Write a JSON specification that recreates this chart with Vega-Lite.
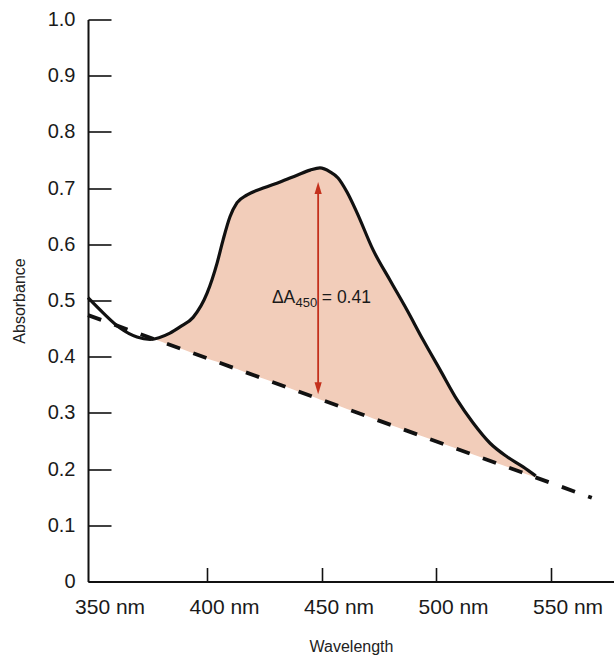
{
  "$schema": "https://vega.github.io/schema/vega-lite/v6.json",
  "autosize": "none",
  "width": 526,
  "height": 562,
  "padding": {"left": 88, "top": 19.5, "right": 0, "bottom": 77.5},
  "background": "white",
  "config": {
    "view": {"stroke": null},
    "font": "Liberation Sans",
    "axis": {
      "grid": false,
      "domainColor": "#111",
      "domainWidth": 2,
      "tickColor": "#111",
      "tickWidth": 1.6,
      "labelColor": "#1a1a1a",
      "titleColor": "#222",
      "labelFont": "Liberation Sans",
      "titleFont": "Liberation Sans",
      "titleFontWeight": "normal"
    }
  },
  "datasets": {
    "curve": [
      {"wl": 348, "a": 0.505},
      {"wl": 354.6, "a": 0.478},
      {"wl": 362, "a": 0.451},
      {"wl": 369.4, "a": 0.435},
      {"wl": 375.1, "a": 0.431},
      {"wl": 383.8, "a": 0.442},
      {"wl": 388.2, "a": 0.453},
      {"wl": 393.9, "a": 0.470},
      {"wl": 400.0, "a": 0.513},
      {"wl": 404.4, "a": 0.567},
      {"wl": 407.0, "a": 0.608},
      {"wl": 410.0, "a": 0.649},
      {"wl": 413.1, "a": 0.674},
      {"wl": 417.5, "a": 0.688},
      {"wl": 424.5, "a": 0.700},
      {"wl": 431.9, "a": 0.711},
      {"wl": 439.3, "a": 0.723},
      {"wl": 445.0, "a": 0.732},
      {"wl": 449.3, "a": 0.736},
      {"wl": 453.7, "a": 0.729},
      {"wl": 457.2, "a": 0.718},
      {"wl": 461.1, "a": 0.693},
      {"wl": 465.5, "a": 0.656},
      {"wl": 472.5, "a": 0.590},
      {"wl": 479.9, "a": 0.536},
      {"wl": 487.3, "a": 0.483},
      {"wl": 494.3, "a": 0.430},
      {"wl": 501.7, "a": 0.377},
      {"wl": 509.2, "a": 0.323},
      {"wl": 516.2, "a": 0.282},
      {"wl": 523.6, "a": 0.246},
      {"wl": 531.0, "a": 0.222},
      {"wl": 538.0, "a": 0.204},
      {"wl": 543.5, "a": 0.188}
    ],
    "fill": [
      {"wl": 377, "a": 0.432, "base": 0.431},
      {"wl": 383.8, "a": 0.442, "base": 0.421},
      {"wl": 388.2, "a": 0.453, "base": 0.415},
      {"wl": 393.9, "a": 0.470, "base": 0.406},
      {"wl": 400.0, "a": 0.513, "base": 0.397},
      {"wl": 404.4, "a": 0.567, "base": 0.391},
      {"wl": 407.0, "a": 0.608, "base": 0.387},
      {"wl": 410.0, "a": 0.649, "base": 0.382},
      {"wl": 413.1, "a": 0.674, "base": 0.378},
      {"wl": 417.5, "a": 0.688, "base": 0.371},
      {"wl": 424.5, "a": 0.700, "base": 0.361},
      {"wl": 431.9, "a": 0.711, "base": 0.350},
      {"wl": 439.3, "a": 0.723, "base": 0.339},
      {"wl": 445.0, "a": 0.732, "base": 0.331},
      {"wl": 449.3, "a": 0.736, "base": 0.324},
      {"wl": 453.7, "a": 0.729, "base": 0.318},
      {"wl": 457.2, "a": 0.718, "base": 0.313},
      {"wl": 461.1, "a": 0.693, "base": 0.307},
      {"wl": 465.5, "a": 0.656, "base": 0.301},
      {"wl": 472.5, "a": 0.590, "base": 0.290},
      {"wl": 479.9, "a": 0.536, "base": 0.279},
      {"wl": 487.3, "a": 0.483, "base": 0.268},
      {"wl": 494.3, "a": 0.430, "base": 0.258},
      {"wl": 501.7, "a": 0.377, "base": 0.247},
      {"wl": 509.2, "a": 0.323, "base": 0.236},
      {"wl": 516.2, "a": 0.282, "base": 0.226},
      {"wl": 523.6, "a": 0.246, "base": 0.215},
      {"wl": 531.0, "a": 0.222, "base": 0.204},
      {"wl": 538.0, "a": 0.204, "base": 0.193},
      {"wl": 543.5, "a": 0.188, "base": 0.185}
    ],
    "baseline": [
      {"wl": 348, "a": 0.474},
      {"wl": 568, "a": 0.149}
    ],
    "arrow": [
      {"wl": 448.5, "a": 0.344, "a2": 0.700}
    ],
    "labels": [
      {"wl": 428.3, "a": 0.4947, "t": "ΔA", "kind": "main"},
      {"wl": 438.6, "a": 0.4884, "t": "450", "kind": "sub"},
      {"wl": 450.1, "a": 0.4947, "t": "= 0.41", "kind": "main"}
    ]
  },
  "encoding": {
    "x": {
      "field": "wl",
      "type": "quantitative",
      "scale": {"domain": [348, 577.7], "nice": false, "zero": false},
      "axis": {
        "title": "Wavelength",
        "titleFontSize": 16,
        "titlePadding": 21,
        "values": [350, 400, 450, 500, 550],
        "labelExpr": "datum.value + ' nm'",
        "labelFontSize": 21,
        "labelFlush": false,
        "labelOffset": 17,
        "labelPadding": 29,
        "tickSize": -14,
        "tickOpacity": {"condition": {"test": "datum.value == 350", "value": 0}, "value": 1}
      }
    },
    "y": {
      "field": "a",
      "type": "quantitative",
      "scale": {"domain": [0, 1], "nice": false},
      "axis": {
        "title": "Absorbance",
        "titleFontSize": 16,
        "titlePadding": 20,
        "values": [0, 0.1, 0.2, 0.3, 0.4, 0.5, 0.6, 0.7, 0.8, 0.9, 1.0],
        "labelExpr": "datum.value == 0 ? '0' : format(datum.value, '.1f')",
        "labelFontSize": 20,
        "labelPadding": 36,
        "tickSize": -23
      }
    }
  },
  "layer": [
    {
      "data": {"name": "fill"},
      "mark": {"type": "area", "color": "#f2cdba", "interpolate": "monotone"},
      "encoding": {"y2": {"field": "base"}}
    },
    {
      "data": {"name": "baseline"},
      "mark": {"type": "line", "color": "#111", "strokeWidth": 3.8, "strokeDash": [14, 14]},
      "encoding": {}
    },
    {
      "data": {"name": "curve"},
      "mark": {"type": "line", "color": "#111", "strokeWidth": 3.2, "interpolate": "monotone"},
      "encoding": {}
    },
    {
      "data": {"name": "arrow"},
      "mark": {"type": "rule", "color": "#c4301c", "strokeWidth": 1.8},
      "encoding": {"y2": {"field": "a2"}}
    },
    {
      "data": {"name": "arrow"},
      "mark": {"type": "point", "filled": true, "opacity": 1, "color": "#c4301c", "shape": "M0,1L0.6,-1L-0.6,-1Z", "size": 144},
      "encoding": {}
    },
    {
      "data": {"name": "arrow"},
      "mark": {"type": "point", "filled": true, "opacity": 1, "color": "#c4301c", "shape": "M0,-1L0.6,1L-0.6,1Z", "size": 144},
      "encoding": {"y": {"field": "a2", "type": "quantitative"}}
    },
    {
      "data": {"name": "labels"},
      "transform": [{"filter": "datum.kind == 'main'"}],
      "mark": {"type": "text", "align": "left", "baseline": "alphabetic", "fontSize": 17.5, "color": "#1a1a1a"},
      "encoding": {"text": {"field": "t"}}
    },
    {
      "data": {"name": "labels"},
      "transform": [{"filter": "datum.kind == 'sub'"}],
      "mark": {"type": "text", "align": "left", "baseline": "alphabetic", "fontSize": 13, "color": "#1a1a1a"},
      "encoding": {"text": {"field": "t"}}
    }
  ]
}
